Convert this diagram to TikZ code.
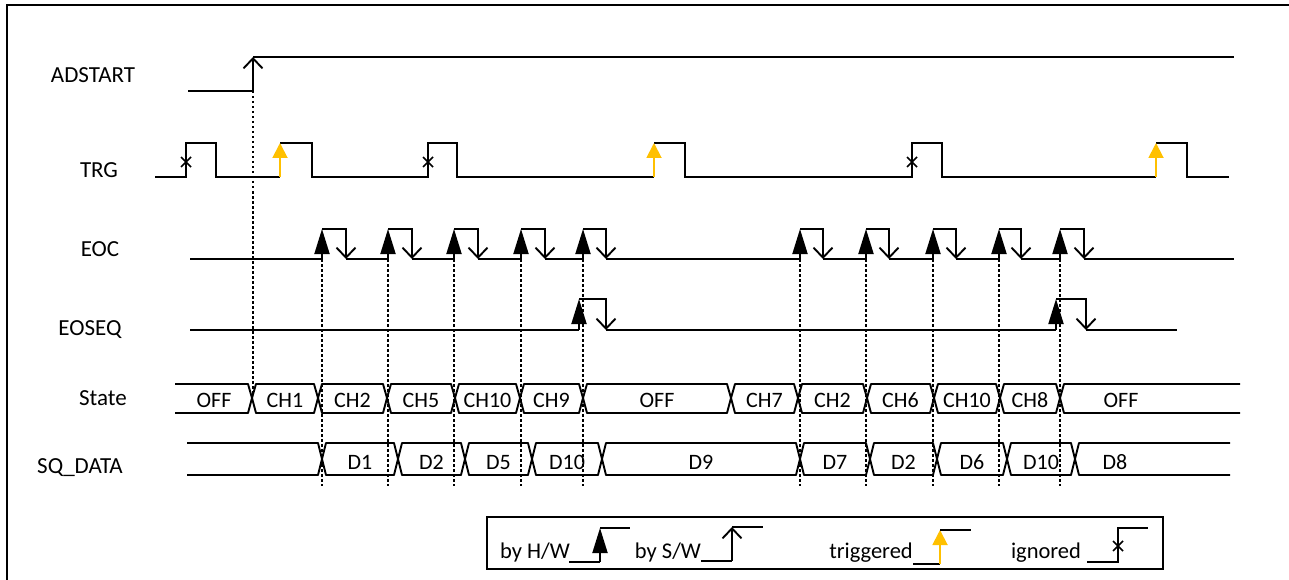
\documentclass[tikz,border=0pt]{standalone}
\usepackage{fontspec}
\setmainfont{Carlito}
\usetikzlibrary{arrows.meta}
\definecolor{trgyellow}{HTML}{FFC000}

\begin{document}
\begin{tikzpicture}[x=1pt,y=-1pt,line width=1.9pt,
    hw/.style={-{Triangle[length=25pt,width=15pt]}},
    sw/.style={-{Straight Barb[length=10pt,width=19pt]}},
    trg/.style={draw=trgyellow,-{Triangle[length=15pt,width=15pt,fill=trgyellow]}},
    vdots/.style={dash pattern=on 2.5pt off 2.5pt},
    bus/.style={line join=round},
    lbl/.style={font=\fontsize{23}{28}\selectfont,anchor=base},
    buslbl/.style={font=\fontsize{22}{26}\selectfont,anchor=base},
    keylbl/.style={font=\fontsize{22.5}{26}\selectfont,anchor=base}]
    %\draw[help lines,step=50] (0,0) grid (1289,580);
    \useasboundingbox (0,0) rectangle (1289,580);
    \draw[line width=2pt] (7,580) -- (7,5) -- (1289,5);

    \node[lbl] (adstart) at (93,83) {ADSTART};
    \node[lbl] (trgl) at (99,178) {TRG};
    \node[lbl] (eoc) at (100,256) {EOC};
    \node[lbl] (eoseq) at (90,335) {EOSEQ};
    \node[lbl] (state) at (103,405) {State};
    \node[lbl] (sqdata) at (80,473) {SQ\_DATA};

    % dotted guides
    \draw[vdots] (253,91) -- (253,396);
    \foreach \x in {322,388,454,521,583,800,866,933,999,1060}
        \draw[vdots] (\x,259) -- (\x,486);

    % ADSTART
    \draw (188,91) -- (253,91);
    \draw[sw] (253,91) -- (253,57);
    \draw (253,57) -- (1234,57);

    % TRG
    \draw (155,177) -- (186,177) -- (186,143) -- (216,143) -- (216,177) -- (280,177)
        (280,143) -- (312,143) -- (312,177) -- (428,177) -- (428,143) -- (457,143) -- (457,177) -- (654,177)
        (654,143) -- (685,143) -- (685,177) -- (912,177) -- (912,143) -- (942,143) -- (942,177) -- (1156,177)
        (1156,143) -- (1187,143) -- (1187,177) -- (1229,177);
    \foreach \x in {280,654,1156}
        \draw[trg] (\x,177) -- (\x,143);
    \foreach \x in {186,428,912}
        \draw[line width=1.5pt] (\x-5,157) -- (\x+5,167) (\x-5,167) -- (\x+5,157);

    % EOC
    \draw (190,259) -- (322,259);
    \foreach \r/\f/\n in {322/346/388, 388/412/454, 454/478/521, 521/545/583, 583/606/800,
            800/823/866, 866/889/933, 933/956/999, 999/1021/1060, 1060/1084/1234}{
        \draw[hw] (\r,259) -- (\r,229);
        \draw[sw] (\r,229) -- (\f,229) -- (\f,259);
        \draw (\f,259) -- (\n,259);
    }

    % EOSEQ
    \draw (190,330) -- (579,330);
    \foreach \r/\f/\n in {579/606/1056, 1056/1086/1177}{
        \draw[hw] (\r,330) -- (\r,299);
        \draw[sw] (\r,299) -- (\f,299) -- (\f,330);
        \draw (\f,330) -- (\n,330);
    }

    % State
    \draw[bus] (175,384) -- (248,384) -- (252,398) -- (248,413) -- (175,413);
    \node[buslbl] (st0) at (214,407) {OFF};
    \foreach \a/\b/\t in {252/318/CH1, 318/387/CH2, 387/455/CH5, 455/520/CH10, 520/583/CH9,
            583/731/OFF, 731/798/CH7, 798/867/CH2, 867/934/CH6, 934/1000/CH10, 1000/1060/CH8}{
        \draw[bus] (\a,398) -- (\a+4,384) -- (\b-4,384) -- (\b,398) -- (\b-4,413) -- (\a+4,413) -- cycle;
        \node[buslbl] (st\a) at ({(\a+\b)/2},407) {\t};
    }
    \draw[bus] (1240,384) -- (1064,384) -- (1060,398) -- (1064,413) -- (1240,413);
    \node[buslbl] (stend) at (1121,407) {OFF};

    % SQ_DATA
    \draw[bus] (187,443) -- (318,443) -- (322,459) -- (318,475) -- (187,475);
    \foreach \a/\b/\t in {322/398/D1, 398/465/D2, 465/532/D5, 532/602/D10, 602/800/D9,
            800/870/D7, 870/937/D2, 937/1007/D6, 1007/1075/D10}{
        \draw[bus] (\a,459) -- (\a+4,443) -- (\b-4,443) -- (\b,459) -- (\b-4,475) -- (\a+4,475) -- cycle;
        \node[buslbl] (dt\a) at ({(\a+\b)/2},469) {\t};
    }
    \draw[bus] (1230,443) -- (1079,443) -- (1075,459) -- (1079,475) -- (1230,475);
    \node[buslbl] (dtend) at (1115,469) {D8};

    % legend
    \draw (487,517) rectangle (1163,569);
    \node[keylbl] (kh) at (535,558) {by H/W};
    \draw (569,562) -- (600,562);
    \draw[hw] (600,562) -- (600,528);
    \draw (600,528) -- (630,528);
    \node[keylbl] (ks) at (668,558) {by S/W};
    \draw (701,561) -- (732,561);
    \draw[sw] (732,561) -- (732,527);
    \draw (732,527) -- (763,527);
    \node[keylbl] (kt) at (871,558) {triggered};
    \draw (913,564) -- (940,564);
    \draw[trg] (940,564) -- (940,530);
    \draw (940,530) -- (971,530);
    \node[keylbl] (ki) at (1046,558) {ignored};
    \draw (1087,562) -- (1118,562) -- (1118,528) -- (1148,528);
    \draw[line width=1.5pt] (1113,541) -- (1123,551) (1113,551) -- (1123,541);
\end{tikzpicture}
\end{document}
